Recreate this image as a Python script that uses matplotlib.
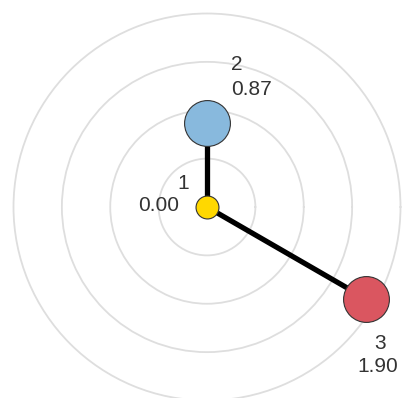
import numpy as np
import matplotlib.pyplot as plt

# nodes: id label, value (radius), angle in degrees
node_names = ["1", "2", "3"]
node_values = [0.00, 0.87, 1.90]
node_angles = [90, 90, -30]
node_colors = ["#FFD800", "#88B9DD", "#DA5660"]
node_sizes = [16.5, 33, 33]
edges = [(0, 1), (0, 2)]
ring_levels = [0.5, 1.0, 1.5, 2.0]

# label offsets in pixels (name line, value line)
name_offsets = [(-24, 18), (30, 53), (14, -50)]
value_offsets = [(-48, -4), (45, 28), (12, -73)]

plt.rcParams["font.family"] = ["Liberation Sans", "DejaVu Sans"]

W, H = 406, 398
fig = plt.figure(figsize=(W / 100, H / 100), dpi=100)

cx, cy = 207, H - 207
unit = 96.75
rmax = 2.05
rad = rmax * unit
ax = fig.add_axes([(cx - rad) / W, (cy - rad) / H, 2 * rad / W, 2 * rad / H],
                  projection="polar")
ax.set_rlim(0, rmax)
ax.set_rticks(ring_levels)
ax.set_yticklabels([])
ax.set_xticks([])
ax.yaxis.grid(True, color="#dedede", linewidth=1.3)
ax.spines["polar"].set_visible(False)
ax.patch.set_alpha(0)

theta = np.deg2rad(node_angles)

for a, b in edges:
    # the center node has r=0, so draw along the target angle
    t = theta[b]
    ax.plot([t, t], [node_values[a], node_values[b]], color="black",
            linewidth=3.8, solid_capstyle="butt", zorder=2)

for i in range(len(node_names)):
    ax.plot(theta[i], node_values[i], "o", markersize=node_sizes[i],
            markerfacecolor=node_colors[i], markeredgecolor="#333333",
            markeredgewidth=0.8, zorder=3, clip_on=False)
    ax.annotate(node_names[i], xy=(theta[i], node_values[i]),
                xytext=name_offsets[i], textcoords="offset pixels",
                ha="center", va="baseline", fontsize=15, color="#333333",
                annotation_clip=False)
    ax.annotate(f"{node_values[i]:.2f}", xy=(theta[i], node_values[i]),
                xytext=value_offsets[i], textcoords="offset pixels",
                ha="center", va="baseline", fontsize=15, color="#333333",
                annotation_clip=False)

fig.savefig("out.png", dpi=100)
